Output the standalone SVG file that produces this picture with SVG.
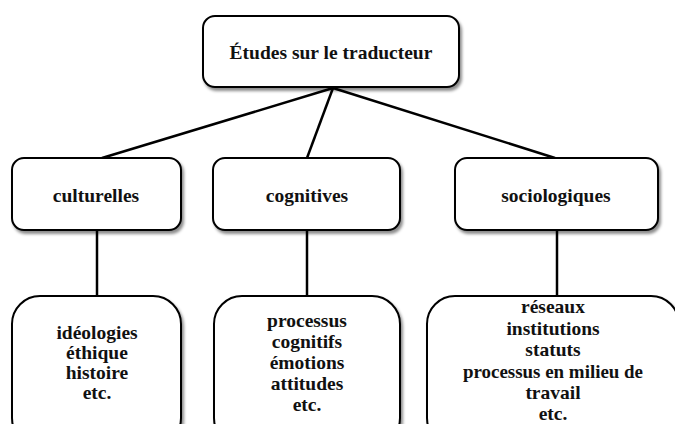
<svg xmlns="http://www.w3.org/2000/svg" width="675" height="424" viewBox="0 0 675 424">
<defs>
<filter id="sh" x="-10%" y="-10%" width="130%" height="140%">
<feDropShadow dx="2" dy="3" stdDeviation="1.5" flood-color="#000" flood-opacity="0.45"/>
</filter>
</defs>
<style>
.box{fill:#fff;stroke:#000;stroke-width:2;filter:url(#sh)}
.t{font-family:"Liberation Serif","Times New Roman",serif;font-weight:bold;font-size:19.5px;fill:#111;text-anchor:middle}
.c{stroke:#000;stroke-width:2.5;fill:none}
</style>
<rect width="675" height="424" fill="#fff"/>
<g id="connectors">
<line class="c" x1="333" y1="88" x2="102" y2="158"/>
<line class="c" x1="333" y1="88" x2="307" y2="158"/>
<line class="c" x1="333" y1="88" x2="555" y2="158"/>
<line class="c" x1="97" y1="230" x2="97" y2="296" stroke-width="3"/>
<line class="c" x1="307" y1="230" x2="307" y2="296" stroke-width="3"/>
<line class="c" x1="557" y1="230" x2="557" y2="296" stroke-width="3"/>
</g>
<g id="root">
<rect class="box" x="203" y="16" width="256" height="71" rx="12"/>
<text class="t" x="331" y="59">Études sur le traducteur</text>
</g>
<g id="culturelles">
<rect class="box" x="12" y="158" width="169" height="72" rx="12"/>
<text class="t" x="96" y="202">culturelles</text>
</g>
<g id="cognitives">
<rect class="box" x="213" y="158" width="187" height="72" rx="12"/>
<text class="t" x="307" y="202">cognitives</text>
</g>
<g id="sociologiques">
<rect class="box" x="455" y="158" width="203" height="72" rx="12"/>
<text class="t" x="556" y="202">sociologiques</text>
</g>
<g id="culturelles-details">
<rect class="box" x="12" y="296" width="169" height="150" rx="28"/>
<text class="t" x="97" y="339">idéologies</text>
<text class="t" x="97" y="359">éthique</text>
<text class="t" x="97" y="379">histoire</text>
<text class="t" x="97" y="399">etc.</text>
</g>
<g id="cognitives-details">
<rect class="box" x="214" y="296" width="186" height="150" rx="28"/>
<text class="t" x="307" y="327">processus</text>
<text class="t" x="307" y="348">cognitifs</text>
<text class="t" x="307" y="369">émotions</text>
<text class="t" x="307" y="390">attitudes</text>
<text class="t" x="307" y="411">etc.</text>
</g>
<g id="sociologiques-details">
<rect class="box" x="427" y="296" width="252" height="150" rx="28"/>
<text class="t" x="553" y="313">réseaux</text>
<text class="t" x="553" y="334.5">institutions</text>
<text class="t" x="553" y="356">statuts</text>
<text class="t" x="553" y="377.5" textLength="180" lengthAdjust="spacingAndGlyphs">processus en milieu de</text>
<text class="t" x="553" y="399">travail</text>
<text class="t" x="553" y="420">etc.</text>
</g>
</svg>
